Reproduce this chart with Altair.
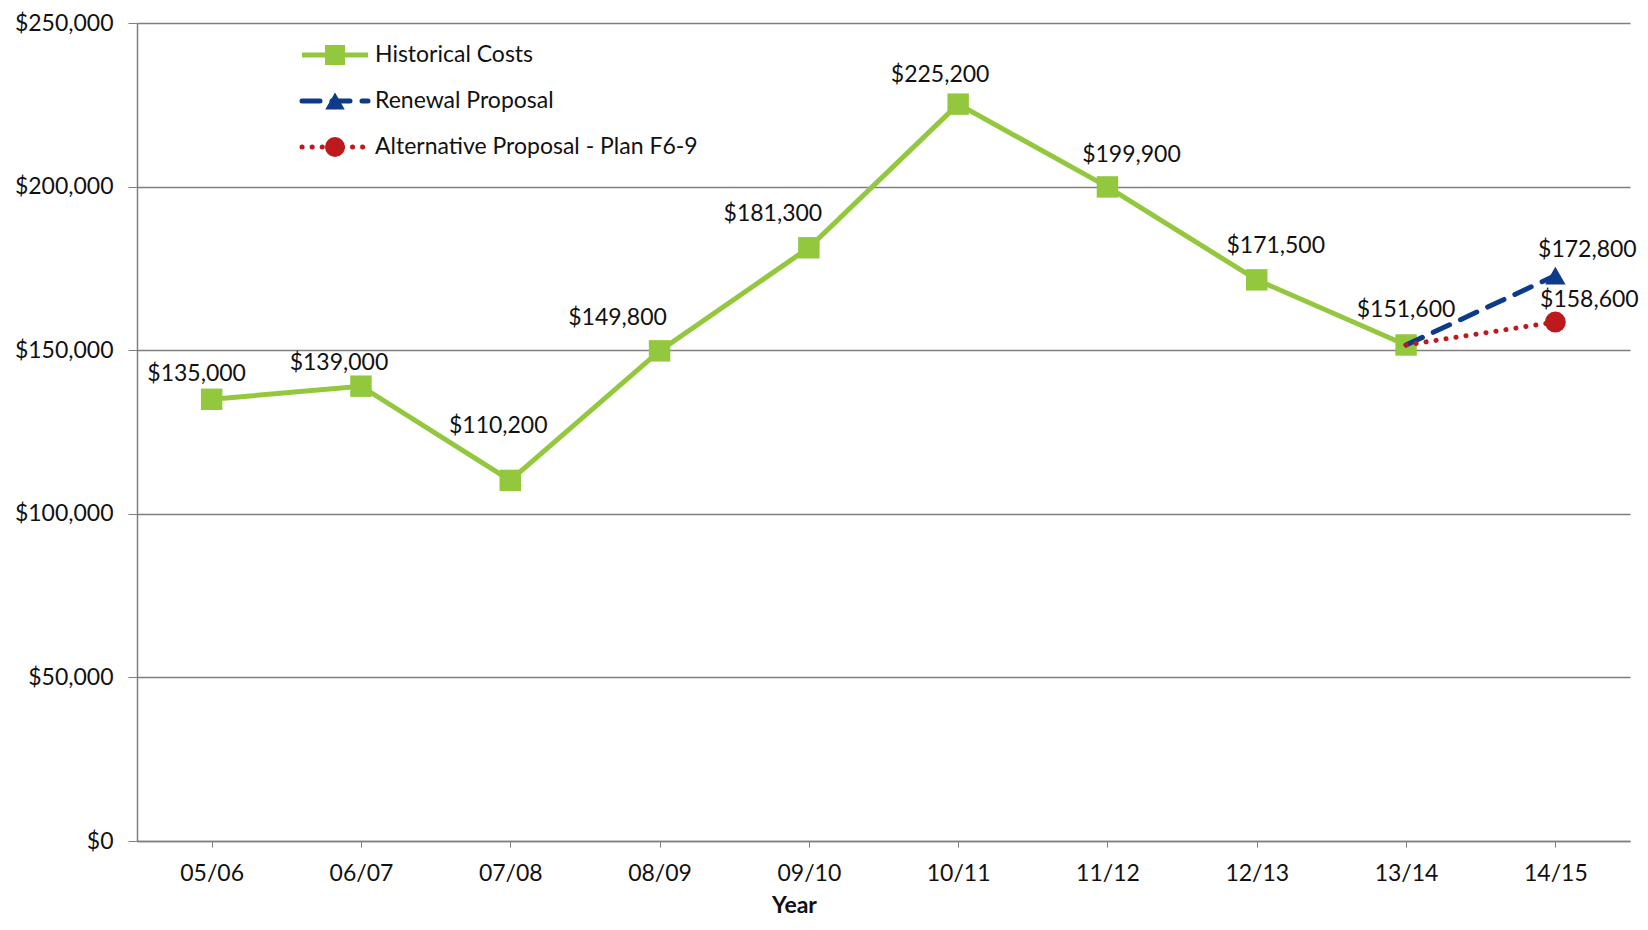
import altair as alt
import pandas as pd

# ---------------- data ----------------
years = ["05/06", "06/07", "07/08", "08/09", "09/10", "10/11", "11/12", "12/13", "13/14", "14/15"]
hist_years = years[:9]
historical = [135000, 139000, 110200, 149800, 181300, 225200, 199900, 171500, 151600]
renewal_years = ["13/14", "14/15"]
renewal = [151600, 172800]
alternative_years = ["13/14", "14/15"]
alternative = [151600, 158600]
series_names = ["Historical Costs", "Renewal Proposal", "Alternative Proposal - Plan F6-9"]
y_ticks = [0, 50000, 100000, 150000, 200000, 250000]

# ---------------- styles ----------------
FONT = "Lato"
GREEN = "#93C83E"
BLUE = "#0E3A8A"
RED = "#BE1A1E"
GRID = "#7f7f7f"
FS = 23

# label nudges (dx, dy) relative to each point
hist_nudge = [(-15, -25), (-22, -23), (-12, -54), (-42, -33), (-36, -34),
              (-18, -29), (24, -32), (19, -34), (0, -35)]
renewal_nudge = (32, -26)
alt_nudge = (34, -22)

hist_df = pd.DataFrame({"year": hist_years, "cost": historical})
ren_df = pd.DataFrame({"year": renewal_years, "cost": renewal})
alt_df = pd.DataFrame({"year": alternative_years, "cost": alternative})

x_enc = alt.X("year:N", sort=years,
              scale=alt.Scale(domain=years, type="point", padding=0.5),
              axis=alt.Axis(title="Year", labelFont=FONT, labelFontSize=FS, labelColor="#111",
                            labelPadding=15, tickSize=6, tickColor=GRID, domainColor=GRID,
                            domainWidth=1.5, grid=False, labelAngle=0,
                            titleFont=FONT, titleFontSize=FS, titleFontWeight="bold",
                            titleColor="#111", titleX=657, titleY=64, titleBaseline="middle",
                            titleAnchor="start", titleAlign="center"))
y_enc = alt.Y("cost:Q",
              scale=alt.Scale(domain=[0, 250000], nice=False, zero=True),
              axis=alt.Axis(title=None, values=y_ticks, format="$,.0f", labelFont=FONT,
                            labelFontSize=FS, labelColor="#111", tickSize=9, tickColor=GRID,
                            labelPadding=15, domainColor=GRID, domainWidth=1.5,
                            grid=True, gridColor=GRID, gridWidth=1.6))

hist_line = alt.Chart(hist_df).mark_line(color=GREEN, strokeWidth=5).encode(x=x_enc, y=y_enc)
hist_pts = alt.Chart(hist_df).mark_point(shape="square", filled=True, color=GREEN, size=460,
                                         opacity=1).encode(x=x_enc, y=y_enc)

ren_line = alt.Chart(ren_df).mark_line(color=BLUE, strokeWidth=5, strokeDash=[18, 12],
                                       strokeCap="round").encode(x=x_enc, y=y_enc)
ren_pt = alt.Chart(ren_df).transform_filter(alt.datum.year == "14/15").mark_point(
    shape="triangle-up", filled=True, color=BLUE, size=420, opacity=1).encode(x=x_enc, y=y_enc)

alt_line = alt.Chart(alt_df).mark_line(color=RED, strokeWidth=5, strokeDash=[0.1, 10],
                                       strokeCap="round").encode(x=x_enc, y=y_enc)
alt_pt = alt.Chart(alt_df).transform_filter(alt.datum.year == "14/15").mark_point(
    shape="circle", filled=True, color=RED, size=440, opacity=1).encode(x=x_enc, y=y_enc)

layers = [hist_line, hist_pts, ren_line, alt_line, ren_pt, alt_pt]

# data labels
for i, (dx, dy) in enumerate(hist_nudge):
    layers.append(
        alt.Chart(hist_df).transform_filter(alt.datum.year == hist_years[i])
        .mark_text(font=FONT, fontSize=FS, color="#111", dx=dx, dy=dy, baseline="middle")
        .encode(x=x_enc, y=y_enc, text=alt.Text("cost:Q", format="$,.0f"))
    )
layers.append(
    alt.Chart(ren_df).transform_filter(alt.datum.year == "14/15")
    .mark_text(font=FONT, fontSize=FS, color="#111", dx=renewal_nudge[0], dy=renewal_nudge[1],
               baseline="middle")
    .encode(x=x_enc, y=y_enc, text=alt.Text("cost:Q", format="$,.0f"))
)
layers.append(
    alt.Chart(alt_df).transform_filter(alt.datum.year == "14/15")
    .mark_text(font=FONT, fontSize=FS, color="#111", dx=alt_nudge[0], dy=alt_nudge[1],
               baseline="middle")
    .encode(x=x_enc, y=y_enc, text=alt.Text("cost:Q", format="$,.0f"))
)

# legend (drawn manually, top-left inside the plot)
leg_styles = [
    dict(color=GREEN, dash=[1, 0], cap="butt", shape="square", size=400),
    dict(color=BLUE, dash=[18, 12], cap="round", shape="triangle-up", size=380),
    dict(color=RED, dash=[0.1, 10], cap="round", shape="circle", size=400),
]
leg_x0, leg_x1, leg_xm, leg_xt = 165, 231, 198, 238
leg_rows = [32, 78, 124]
for name, st, yy in zip(series_names, leg_styles, leg_rows):
    one = pd.DataFrame({"name": [name]})
    layers.append(alt.Chart(one).mark_rule(color=st["color"], strokeWidth=5,
                                           strokeDash=st["dash"], strokeCap=st["cap"])
                  .encode(x=alt.value(leg_x0), x2=alt.value(leg_x1), y=alt.value(yy)))
    layers.append(alt.Chart(one).mark_point(shape=st["shape"], filled=True, color=st["color"],
                                            size=st["size"], opacity=1)
                  .encode(x=alt.value(leg_xm), y=alt.value(yy)))
    layers.append(alt.Chart(one).mark_text(font=FONT, fontSize=FS, color="#111", align="left",
                                           baseline="middle")
                  .encode(x=alt.value(leg_xt), y=alt.value(yy), text="name:N"))

chart = alt.layer(*layers).properties(
    width=1493, height=818,
    autosize=alt.AutoSizeParams(type="none"),
    padding={"left": 129, "top": 15, "right": 10, "bottom": 80},
    background="white",
).configure_view(stroke=None)

chart.save("out.html", embed_options={"renderer": "svg", "actions": False})
